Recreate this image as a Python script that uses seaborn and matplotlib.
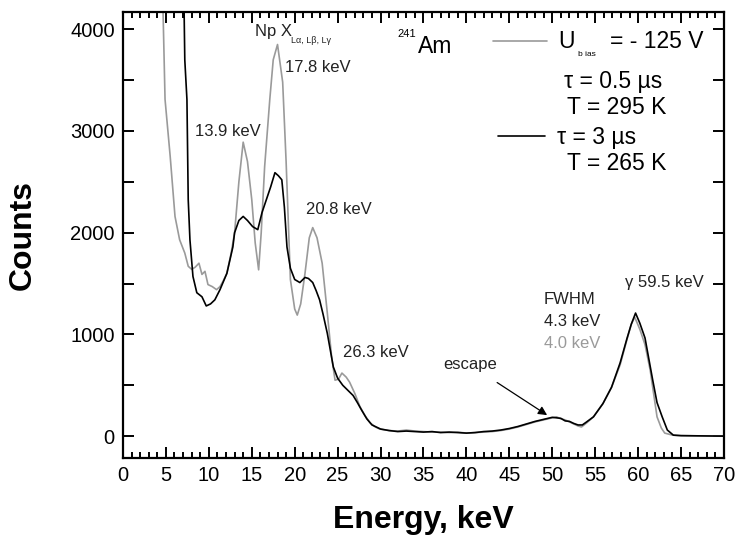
import matplotlib
matplotlib.use("Agg")
import matplotlib.pyplot as plt
import seaborn as sns
import pandas as pd
from matplotlib.ticker import MultipleLocator
from matplotlib.lines import Line2D

# --- spectrum, tau = 0.5 us, T = 295 K (gray) ---
energy_gray = [4.0, 4.66, 4.9, 5.5, 6.06, 6.6, 7.2, 7.6, 8.0, 8.4, 8.85, 9.2, 9.55,
               9.9, 10.4, 10.9, 11.3, 11.7, 12.1, 12.6, 13.0, 13.5, 14.0, 14.5, 15.0,
               15.4, 15.8, 16.1, 16.5, 17.1, 17.5, 18.0, 18.6, 19.0, 19.5, 20.0, 20.3,
               20.7, 21.2, 21.7, 22.1, 22.6, 23.2, 23.8, 24.3, 24.7, 25.1, 25.5, 26.0,
               26.4, 27.0, 27.6, 28.2, 28.8, 29.4, 29.9, 31, 32, 33, 34, 35, 36, 37,
               38, 39, 40, 41, 42, 43, 44, 45, 46, 47, 48, 49, 50, 50.5, 51, 51.5, 52,
               52.5, 53, 53.4, 54, 54.8, 55.9, 56.9, 57.9, 58.7, 59.2, 59.6, 60.2,
               60.8, 61.4, 62.2, 62.7, 63.1, 64, 65, 70]
counts_gray = [6000, 4200, 3310, 2750, 2160, 1930, 1800, 1670, 1640, 1660, 1700, 1590,
               1620, 1490, 1470, 1440, 1470, 1530, 1600, 1800, 2000, 2500, 2890, 2700,
               2325, 1900, 1635, 2000, 2650, 3310, 3700, 3850, 3480, 2700, 1540, 1250,
               1190, 1300, 1600, 1950, 2050, 1950, 1700, 1210, 780, 550, 560, 620, 580,
               530, 420, 290, 200, 130, 90, 70, 55, 50, 60, 50, 45, 40, 40, 35, 40, 30,
               35, 40, 45, 55, 70, 90, 115, 140, 160, 180, 190, 170, 160, 140, 120, 100,
               90, 130, 190, 320, 480, 700, 950, 1100, 1170, 1050, 900, 650, 190, 80,
               30, 10, 5, 0]

# --- spectrum, tau = 3 us, T = 265 K (black) ---
energy_black = [7.0, 7.1, 7.2, 7.45, 7.6, 7.8, 8.15, 8.6, 9.2, 9.7, 10.2, 10.7, 11.3,
                12.1, 12.8, 13.0, 13.5, 14.0, 14.5, 15.1, 15.7, 16.2, 16.7, 17.2, 17.7,
                18.1, 18.5, 18.8, 19.1, 19.5, 20.0, 20.6, 21.2, 21.6, 22.1, 22.5, 22.9,
                23.3, 23.8, 24.5, 25.0, 25.6, 26.2, 26.8, 27.3, 27.8, 28.4, 29.0, 30.0,
                31, 32, 33, 34, 35, 36, 37, 38, 39, 40, 41, 42, 43, 44, 45, 46, 47, 48,
                49, 50, 50.5, 51, 51.5, 52, 52.5, 53, 53.5, 54, 54.8, 55.9, 56.9, 57.9,
                58.7, 59.2, 59.7, 60.2, 60.8, 61.7, 62.2, 62.8, 63.4, 64.1, 65, 70]
counts_black = [6000, 4300, 3700, 3310, 2325, 1930, 1570, 1410, 1370, 1280, 1300, 1340,
                1440, 1600, 1860, 2000, 2120, 2160, 2120, 2060, 2030, 2200, 2325, 2450,
                2590, 2560, 2520, 2250, 1860, 1650, 1540, 1510, 1560, 1550, 1510, 1430,
                1340, 1200, 1010, 680, 570, 500, 450, 400, 330, 255, 170, 110, 70, 55,
                45, 50, 45, 40, 45, 35, 40, 35, 30, 35, 45, 50, 60, 75, 95, 120, 145,
                165, 185, 180, 175, 150, 145, 125, 110, 110, 140, 190, 320, 480, 720,
                960, 1100, 1210, 1110, 965, 550, 330, 190, 60, 10, 5, 0]

GRAY = "#9a9a9a"

sns.set_theme(style="ticks")
plt.rcParams["font.family"] = ["Liberation Sans", "DejaVu Sans"]

fig = plt.figure(figsize=(7.39, 5.43), dpi=100)
ax = fig.add_axes([0.1664, 0.1565, 0.8133, 0.8215])

df_gray = pd.DataFrame({"Energy": energy_gray, "Counts": counts_gray})
df_black = pd.DataFrame({"Energy": energy_black, "Counts": counts_black})
sns.lineplot(data=df_gray, x="Energy", y="Counts", color=GRAY, lw=1.2, ax=ax)
sns.lineplot(data=df_black, x="Energy", y="Counts", color="black", lw=1.2, ax=ax)

ax.set_xlim(0, 70)
ax.set_ylim(-215, 4170)
ax.xaxis.set_major_locator(MultipleLocator(5))
ax.xaxis.set_minor_locator(MultipleLocator(1))
ax.yaxis.set_major_locator(MultipleLocator(1000))
ax.yaxis.set_minor_locator(MultipleLocator(500))
ax.tick_params(which="both", direction="in", top=True, right=True, width=1.4,
               colors="black", labelsize=14.5)
ax.tick_params(axis="x", which="major", length=8, pad=6)
ax.tick_params(axis="x", which="minor", length=4)
ax.tick_params(axis="y", which="both", length=8, pad=6)
for sp in ax.spines.values():
    sp.set_linewidth(1.6)
    sp.set_color("black")

ax.set_xlabel("Energy, keV", fontsize=23, fontweight="bold", color="black")
ax.set_ylabel("Counts", fontsize=23, fontweight="bold", color="black")
ax.xaxis.set_label_coords(0.5, -0.105)
ax.yaxis.set_label_coords(-0.142, 0.5)

# peak labels
txt = dict(fontsize=12, color="#222222", va="center")
ax.text(15.4, 3980, "Np X", **txt)
ax.text(19.6, 3890, "Lα, Lβ, Lγ", fontsize=6.5, color="#222222", va="center")
ax.text(18.87, 3625, "17.8 keV", **txt)
ax.text(8.39, 2995, "13.9 keV", **txt)
ax.text(21.3, 2227, "20.8 keV", **txt)
ax.text(25.6, 818, "26.3 keV", **txt)
ax.text(58.5, 1507, "γ 59.5 keV", **txt)
ax.text(49.0, 1340, "FWHM", **txt)
ax.text(49.0, 1123, "4.3 keV", **txt)
ax.text(49.0, 906, "4.0 keV", fontsize=12, color=GRAY, va="center")
ax.annotate("escape", xy=(49.4, 207), xytext=(37.3, 700), fontsize=12,
            color="#222222", va="center",
            arrowprops=dict(arrowstyle="-|>", color="black", lw=0.9,
                            shrinkA=9, shrinkB=0, mutation_scale=13))

# source and legend block
ax.text(32.0, 3950, "241", fontsize=8, color="black", va="center")
ax.text(34.4, 3830, "Am", fontsize=16.5, color="black", va="center")
ax.add_line(Line2D([43.1, 49.4], [3880, 3880], color=GRAY, lw=1.2))
ax.add_line(Line2D([43.7, 49.1], [2955, 2955], color="black", lw=1.2))
big = dict(fontsize=16.5, color="black", va="center")
ax.text(50.7, 3880, "U", **big)
ax.text(53.0, 3750, "b ias", fontsize=6, color="black", va="center")
ax.text(56.7, 3880, "= - 125 V", **big)
ax.text(51.4, 3490, "τ = 0.5 µs", **big)
ax.text(51.7, 3230, "T = 295 K", **big)
ax.text(50.6, 2936, "τ = 3 µs", **big)
ax.text(51.7, 2680, "T = 265 K", **big)

fig.savefig("out.png", dpi=100)
